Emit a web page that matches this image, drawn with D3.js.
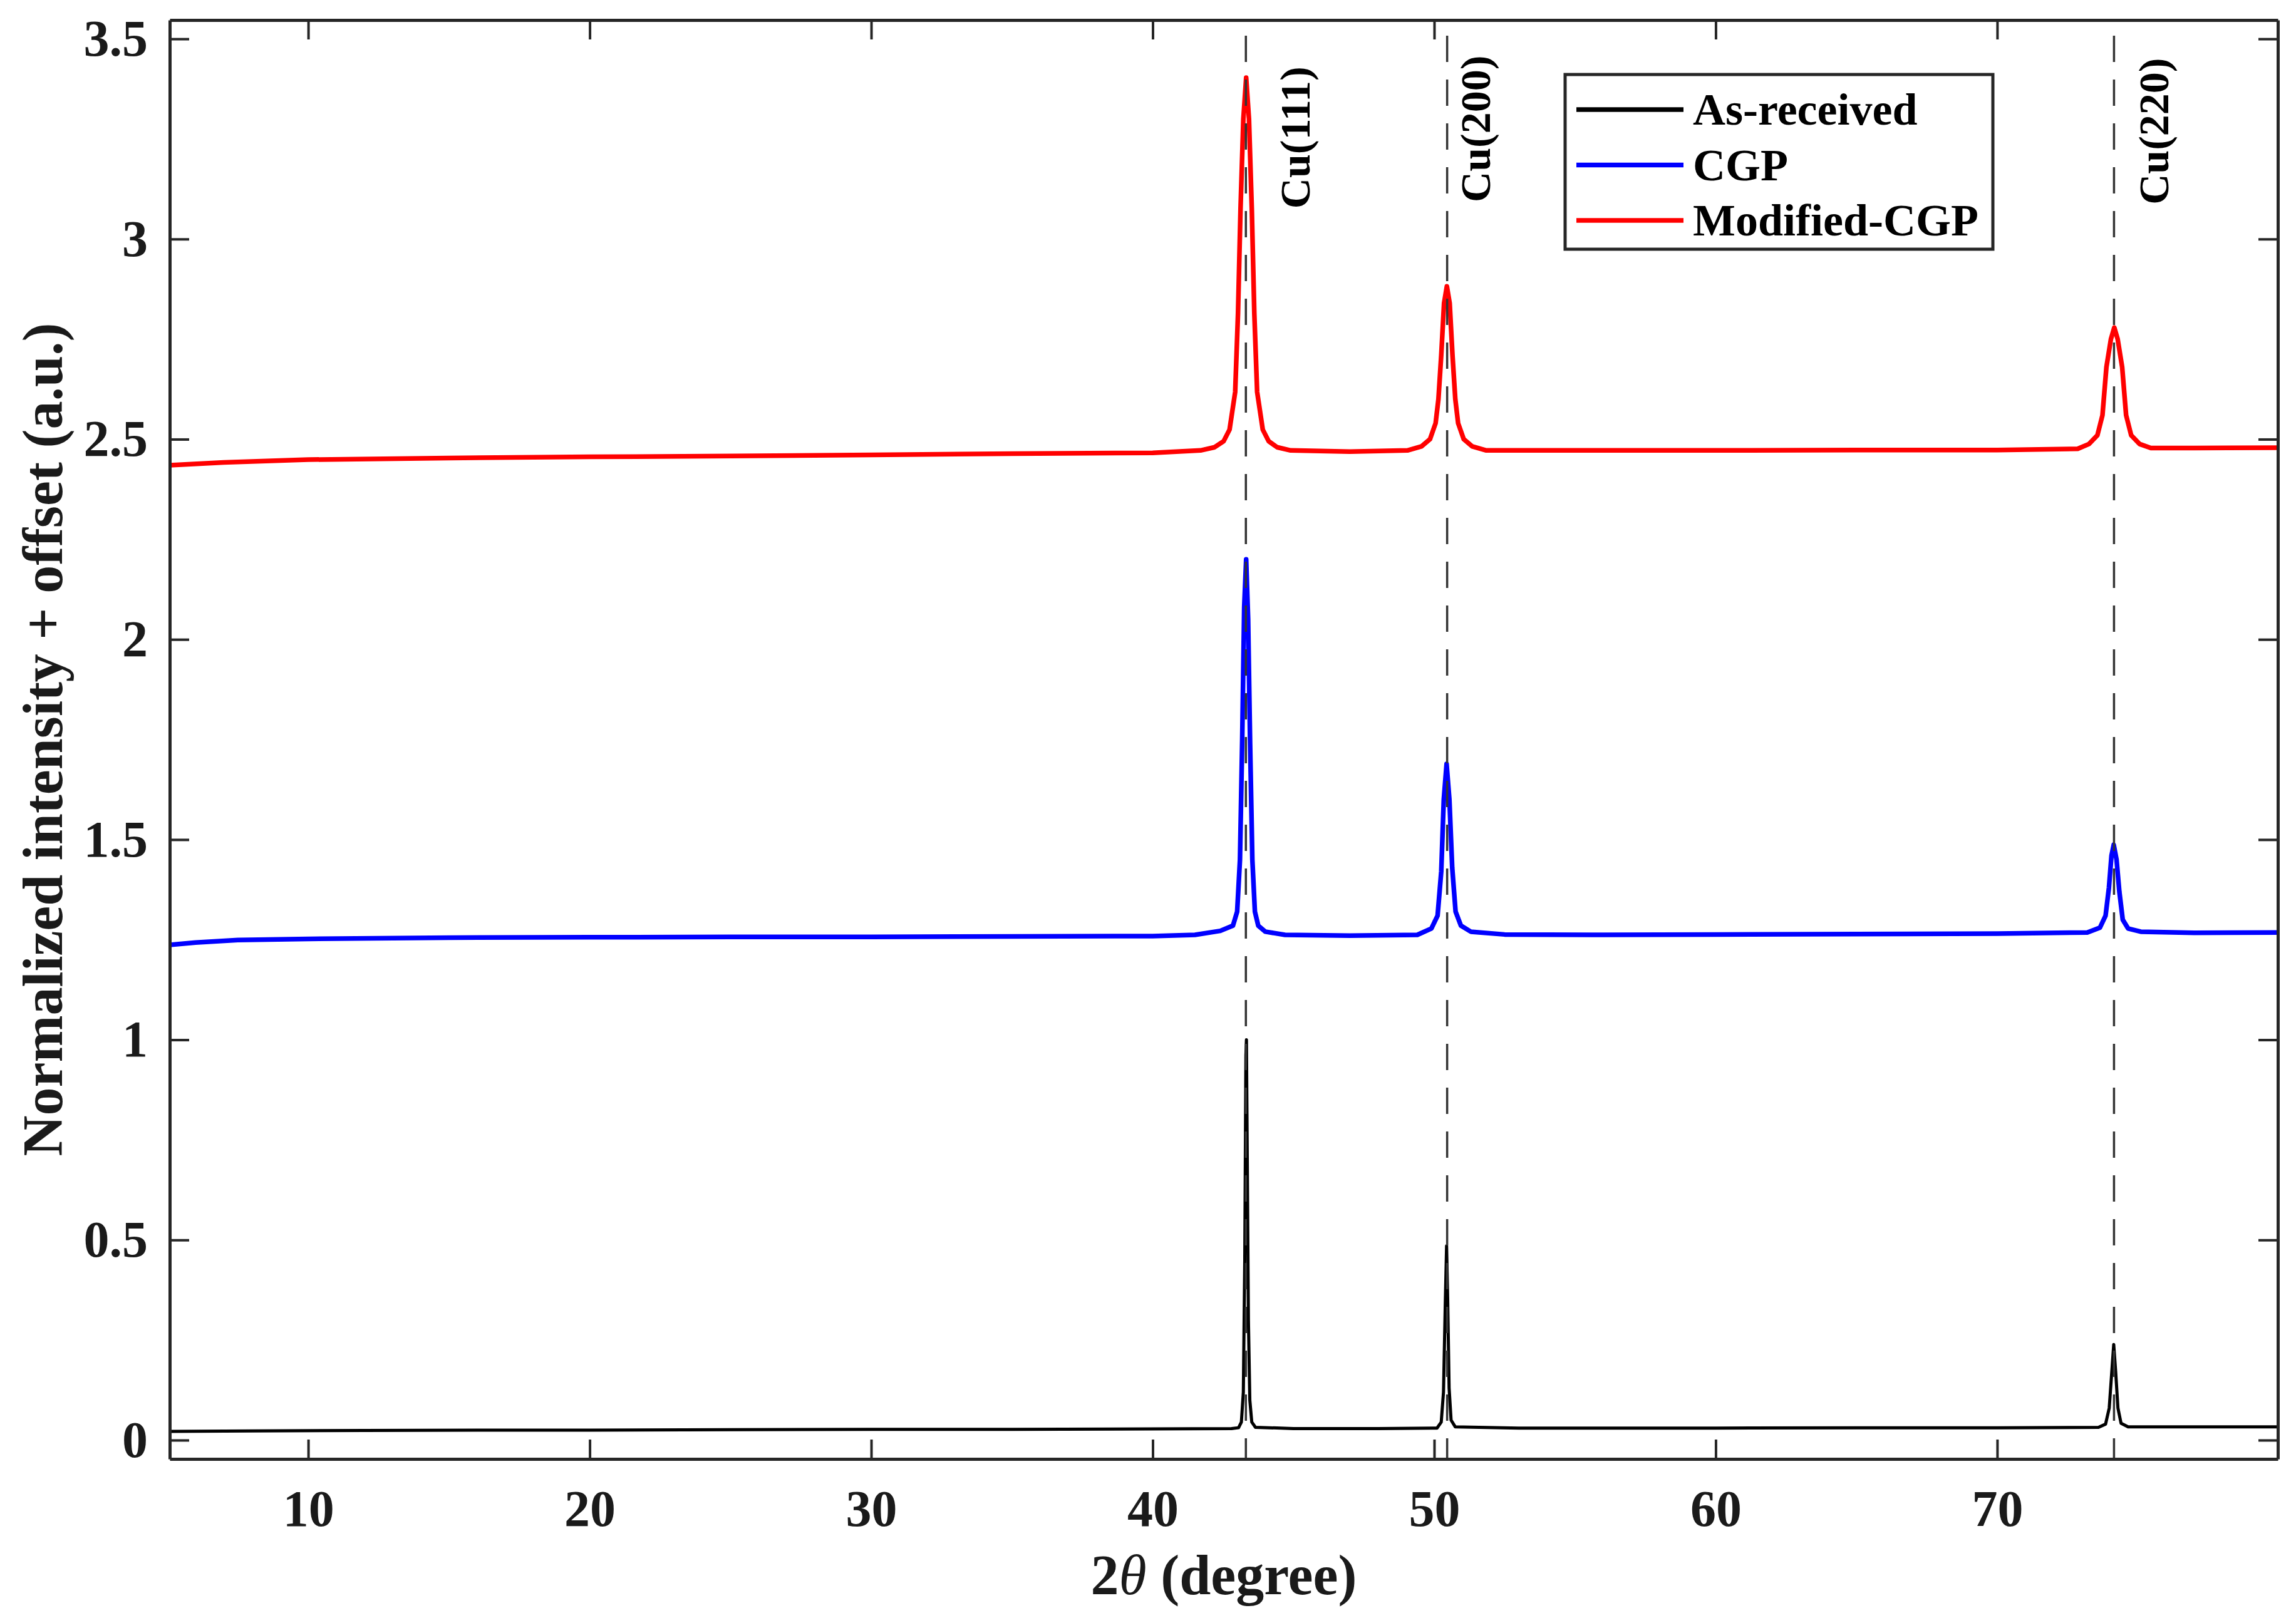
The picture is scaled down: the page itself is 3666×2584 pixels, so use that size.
<!DOCTYPE html>
<html>
<head>
<meta charset="utf-8">
<script src="https://cdn.jsdelivr.net/npm/d3@7"></script>
<style>
  body { margin: 0; background: #fff; }
  text { font-family: "Liberation Serif", "Times New Roman", serif; font-weight: bold; }
</style>
</head>
<body>
<svg id="chart" width="3666" height="2584"></svg>
<script>
// XRD patterns, values: [2theta, normalized intensity + offset]
const asReceived = [
  [5.08, 0.022], [8, 0.023], [12, 0.024], [16, 0.025], [20, 0.025], [25, 0.026], [30, 0.027],
  [35, 0.027], [40, 0.028], [42.8, 0.029], [43.05, 0.031], [43.15, 0.045], [43.22, 0.12],
  [43.27, 0.45], [43.31, 0.96], [43.33, 1.0], [43.36, 0.7], [43.4, 0.3], [43.45, 0.1],
  [43.52, 0.045], [43.65, 0.032], [45, 0.029], [48, 0.029], [50.1, 0.03], [50.25, 0.045],
  [50.33, 0.12], [50.39, 0.33], [50.44, 0.485], [50.48, 0.35], [50.53, 0.13], [50.6, 0.05],
  [50.75, 0.033], [53, 0.03], [56, 0.03], [60, 0.03], [65, 0.031], [70, 0.031], [73.6, 0.032],
  [73.85, 0.04], [73.98, 0.08], [74.06, 0.16], [74.14, 0.239], [74.21, 0.17], [74.29, 0.08],
  [74.4, 0.042], [74.65, 0.033], [77, 0.033], [79.97, 0.033]
];
const cgp = [
  [5.08, 1.237], [6, 1.243], [7.5, 1.249], [10, 1.252], [15, 1.255], [20, 1.256], [25, 1.257],
  [30, 1.257], [35, 1.258], [40, 1.259], [41.5, 1.262], [42.4, 1.272], [42.85, 1.285],
  [43.0, 1.32], [43.1, 1.45], [43.18, 1.75], [43.25, 2.08], [43.32, 2.2], [43.39, 2.05],
  [43.46, 1.74], [43.54, 1.45], [43.63, 1.32], [43.75, 1.285], [44.0, 1.27], [44.7, 1.262],
  [47, 1.26], [49.4, 1.262], [49.9, 1.278], [50.12, 1.31], [50.25, 1.42], [50.34, 1.6],
  [50.44, 1.689], [50.54, 1.6], [50.64, 1.43], [50.76, 1.32], [50.95, 1.285], [51.3, 1.27],
  [52.5, 1.263], [56, 1.262], [60, 1.263], [65, 1.264], [70, 1.265], [73.2, 1.268],
  [73.65, 1.28], [73.85, 1.31], [73.97, 1.38], [74.06, 1.46], [74.14, 1.487], [74.24, 1.45],
  [74.34, 1.37], [74.46, 1.3], [74.65, 1.278], [75.1, 1.27], [77, 1.267], [79.97, 1.268]
];
const modifiedCgp = [
  [5.08, 2.435], [7, 2.442], [10, 2.449], [15, 2.453], [20, 2.456], [25, 2.458], [30, 2.461],
  [35, 2.464], [40, 2.466], [41.7, 2.472], [42.2, 2.48], [42.52, 2.495], [42.73, 2.524],
  [42.93, 2.618], [43.03, 2.814], [43.12, 3.076], [43.22, 3.3], [43.32, 3.403], [43.42, 3.3],
  [43.52, 3.076], [43.61, 2.814], [43.71, 2.618], [43.91, 2.524], [44.12, 2.495], [44.42, 2.48],
  [44.9, 2.472], [47, 2.469], [49.05, 2.472], [49.55, 2.482], [49.85, 2.5], [50.05, 2.54],
  [50.15, 2.6], [50.25, 2.71], [50.35, 2.84], [50.45, 2.882], [50.55, 2.84], [50.65, 2.71],
  [50.75, 2.6], [50.85, 2.54], [51.05, 2.5], [51.35, 2.482], [51.85, 2.472], [55, 2.472],
  [60, 2.472], [65, 2.473], [70, 2.473], [72.86, 2.476], [73.26, 2.488], [73.56, 2.51],
  [73.74, 2.56], [73.88, 2.68], [74.04, 2.75], [74.16, 2.779], [74.28, 2.75], [74.44, 2.68],
  [74.58, 2.56], [74.76, 2.51], [75.06, 2.488], [75.46, 2.478], [77, 2.478], [79.97, 2.479]
];

const seriesNames = ["As-received", "CGP", "Modified-CGP"];
const seriesColors = ["#000000", "#0000ff", "#ff0000"];
const seriesWidths = [5, 7.5, 7.5];

// reflections marked with dashed lines
const peakLabels = ["Cu(111)", "Cu(200)", "Cu(220)"];
const peakTheta = [43.31, 50.46, 74.15];
const labelTheta = [45.57, 51.99, 76.07];
const labelY = [3.076, 3.092, 3.086];

const xTicks = [10, 20, 30, 40, 50, 60, 70];
const yTicks = [0, 0.5, 1, 1.5, 2, 2.5, 3, 3.5];

const svg = d3.select('#chart');
const axisColor = '#262626';

const x = d3.scaleLinear().domain([5.08, 79.97]).range([271, 3637]);
const y = d3.scaleLinear().domain([-0.047, 3.547]).range([2330, 32]);

svg.append('clipPath').attr('id', 'plotclip')
  .append('rect')
  .attr('x', x.range()[0]).attr('y', y.range()[1])
  .attr('width', x.range()[1] - x.range()[0])
  .attr('height', y.range()[0] - y.range()[1]);

// data lines
const line = d3.line().x(d => x(d[0])).y(d => y(d[1]));
const plot = svg.append('g').attr('clip-path', 'url(#plotclip)');
[asReceived, cgp, modifiedCgp].forEach((s, i) => {
  plot.append('path')
    .datum(s)
    .attr('d', line)
    .attr('fill', 'none')
    .attr('stroke', seriesColors[i])
    .attr('stroke-width', seriesWidths[i])
    .attr('stroke-linejoin', 'round');
});

// dashed reference lines
plot.selectAll('line.ref')
  .data(peakTheta).enter().append('line')
  .attr('class', 'ref')
  .attr('x1', d => x(d)).attr('x2', d => x(d))
  .attr('y1', y(3.508)).attr('y2', y.range()[0])
  .attr('stroke', '#333')
  .attr('stroke-width', 3.5)
  .attr('stroke-dasharray', '42 28');

svg.selectAll('text.peak')
  .data(peakLabels).enter().append('text')
  .attr('class', 'peak')
  .attr('transform', (d, i) => `translate(${x(labelTheta[i])},${y(labelY[i])}) rotate(-90)`)
  .attr('font-size', 68)
  .attr('fill', '#000')
  .text(d => d);

// axes, ticks inward on all four sides
function styleAxis(g) {
  g.select('.domain').attr('stroke', axisColor).attr('stroke-width', 5);
  g.selectAll('.tick line').attr('stroke', axisColor).attr('stroke-width', 4);
  g.selectAll('.tick text').attr('fill', '#1a1a1a')
    .style('font-family', '"Liberation Serif", "Times New Roman", serif')
    .style('font-weight', 'bold');
}

svg.append('g')
  .attr('transform', `translate(0,${y.range()[0]})`)
  .call(d3.axisBottom(x).tickValues(xTicks).tickSizeInner(-31).tickSizeOuter(0).tickPadding(49))
  .attr('font-size', 82)
  .call(styleAxis);

svg.append('g')
  .attr('transform', `translate(0,${y.range()[1]})`)
  .call(d3.axisTop(x).tickValues(xTicks).tickSizeInner(-31).tickSizeOuter(0).tickFormat(''))
  .call(styleAxis);

svg.append('g')
  .attr('transform', `translate(${x.range()[0]},0)`)
  .call(d3.axisLeft(y).tickValues(yTicks).tickSizeInner(-31).tickSizeOuter(0).tickPadding(35)
    .tickFormat(d3.format('~g')))
  .attr('font-size', 82)
  .call(styleAxis);

svg.append('g')
  .attr('transform', `translate(${x.range()[1]},0)`)
  .call(d3.axisRight(y).tickValues(yTicks).tickSizeInner(-31).tickSizeOuter(0).tickFormat(''))
  .call(styleAxis);

// axis titles
const xt = svg.append('text')
  .attr('x', (x.range()[0] + x.range()[1]) / 2)
  .attr('y', 2546)
  .attr('text-anchor', 'middle')
  .attr('font-size', 90)
  .attr('fill', '#1a1a1a');
xt.append('tspan').text('2');
xt.append('tspan').attr('font-style', 'italic').attr('font-weight', 'normal').text('θ');
xt.append('tspan').text(' (degree)');

svg.append('text')
  .attr('transform', `translate(99,${(y.range()[0] + y.range()[1]) / 2}) rotate(-90)`)
  .attr('text-anchor', 'middle')
  .attr('font-size', 90)
  .attr('fill', '#1a1a1a')
  .text('Normalized intensity + offset (a.u.)');

// legend
const legend = svg.append('g').attr('transform', 'translate(2499,119)');
legend.append('rect')
  .attr('width', 683).attr('height', 279)
  .attr('fill', '#fff')
  .attr('stroke', axisColor)
  .attr('stroke-width', 5);
const rows = legend.selectAll('g.row')
  .data(seriesNames).enter().append('g')
  .attr('class', 'row')
  .attr('transform', (d, i) => `translate(0,${56 + i * 88.5})`);
rows.append('line')
  .attr('x1', 18).attr('x2', 189)
  .attr('stroke', (d, i) => seriesColors[i])
  .attr('stroke-width', 7.5);
rows.append('text')
  .attr('x', 204).attr('y', 24)
  .attr('font-size', 72)
  .attr('fill', '#000')
  .text(d => d);
</script>
</body>
</html>
